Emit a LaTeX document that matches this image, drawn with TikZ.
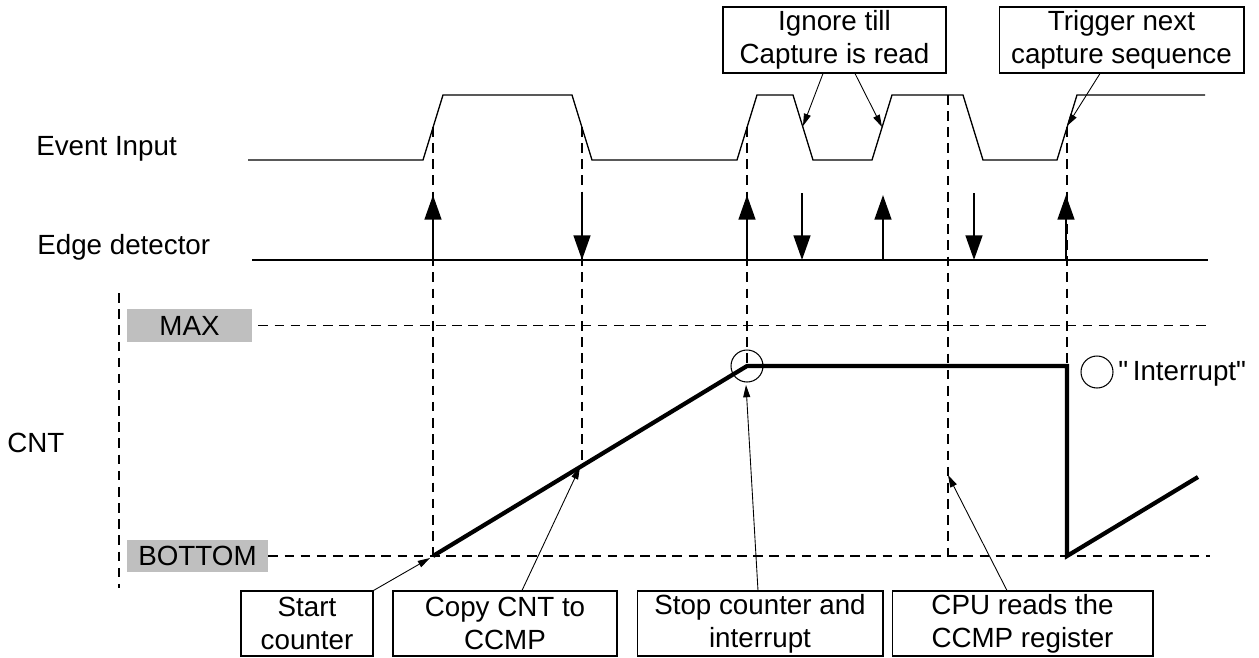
\documentclass[tikz,border=0pt]{standalone}
\usepackage{fontspec}
\setmainfont{Liberation Sans}
\usetikzlibrary{arrows.meta}
\begin{document}
\begin{tikzpicture}[x=0.02cm,y=-0.02cm,
  every node/.style={font=\fontsize{15.8}{18.8}\selectfont,inner sep=0pt},
  wave/.style={line width=0.75pt},
  guide/.style={line width=0.7pt,dash pattern=on 5.5pt off 3.7pt},
  ramp/.style={line width=2.4pt,line join=miter},
  edgearrow/.style={line width=1.3pt,-{Triangle[length=14pt,width=9.5pt]}},
  note/.style={line width=0.5pt,-{Triangle[length=7pt,width=4pt]}},
  callbox/.style={draw,line width=0.6pt,align=center,minimum height=1.3cm},
  levelbox/.style={fill=black!25,minimum height=0.65cm}]
  \useasboundingbox (0,0) rectangle (1259,657);
  % signal names
  \node[anchor=base west] (evname) at (36,155) {Event Input};
  \node[anchor=base west] (edname) at (37,254) {Edge detector};
  \node[anchor=base west] (cntname) at (7,452) {CNT};
  % event input
  \draw[wave] (248,160)--(423,160)--(443,95)--(572,95)--(592,160)--(737,160)--(757,95)--(793,95)
    --(813,160)--(872,160)--(892,95)--(963,95)--(983,160)--(1057,160)--(1077,95)--(1205,95);
  % edge detector
  \draw[wave] (252,260)--(1208,260);
  \foreach \x in {433,747,883,1066} \draw[edgearrow] (\x,260)--(\x,195);
  \foreach \x in {582,802,974} \draw[edgearrow] (\x,193)--(\x,260);
  % levels
  \node[levelbox,minimum width=2.5cm] (max) at (189.5,325.5) {MAX};
  \node[levelbox,minimum width=2.82cm] (bottom) at (197.5,556) {BOTTOM};
  \draw[guide] (max.east)++(6,0)--(1210,325.5);
  \draw[guide] (bottom.east)--(1210,556);
  \draw[guide] (119,293)--(119,588);
  % guides
  \draw[guide] (433,127)--(433,556);
  \draw[guide] (582,127)--(582,467);
  \draw[guide] (747,127)--(747,366);
  \draw[guide] (948,95)--(948,556);
  \draw[guide] (1067,127)--(1067,366);
  % counter
  \draw[ramp] (433,556)--(747,366)--(1067,366)--(1067,556)--(1198,477);
  \node[draw,circle,line width=0.6pt,minimum size=0.64cm] (stopring) at (747,366) {};
  \node[draw,circle,line width=0.6pt,minimum size=0.64cm] (ring) at (1097,372) {};
  \node[anchor=base west] (irq) at (1118,380) {\textquotedbl\,Interrupt\textquotedbl};
  % callouts
  \node[callbox,minimum width=4.46cm,minimum height=1.32cm] (ignore) at (834.5,40) {Ignore till\\Capture is read};
  \node[callbox,minimum width=4.9cm,minimum height=1.32cm] (trigger) at (1121.5,40) {Trigger next\\capture sequence};
  \node[callbox,minimum width=2.64cm] (start) at (307,623.5) {Start\\counter};
  \node[callbox,minimum width=4.48cm] (copy) at (505,623.5) {Copy CNT to\\CCMP};
  \node[callbox,minimum width=4.92cm] (stop) at (760,623.5) {Stop counter and\\interrupt};
  \node[callbox,minimum width=5.22cm] (cpu) at (1022.5,623.5) {CPU reads the\\CCMP register};
  \coordinate (fall1) at (803,126);
  \coordinate (rise1) at (882,127);
  \coordinate (rise2) at (1067,126);
  \coordinate (cstart) at (430,558);
  \coordinate (ccopy) at (580,467);
  \coordinate (cstop) at (746,385);
  \coordinate (cread) at (948,475);
  \draw[note] ([xshift=-0.23cm]ignore.south)--(fall1);
  \draw[note] ([xshift=0.41cm]ignore.south)--(rise1);
  \draw[note] ([xshift=-0.43cm]trigger.south)--(rise2);
  \draw[note] (start.north east)--(cstart);
  \draw[note] ([xshift=0.34cm]copy.north)--(ccopy);
  \draw[note] ([xshift=-0.04cm]stop.north)--(cstop);
  \draw[note] ([xshift=-0.31cm]cpu.north)--(cread);
\end{tikzpicture}
\end{document}
